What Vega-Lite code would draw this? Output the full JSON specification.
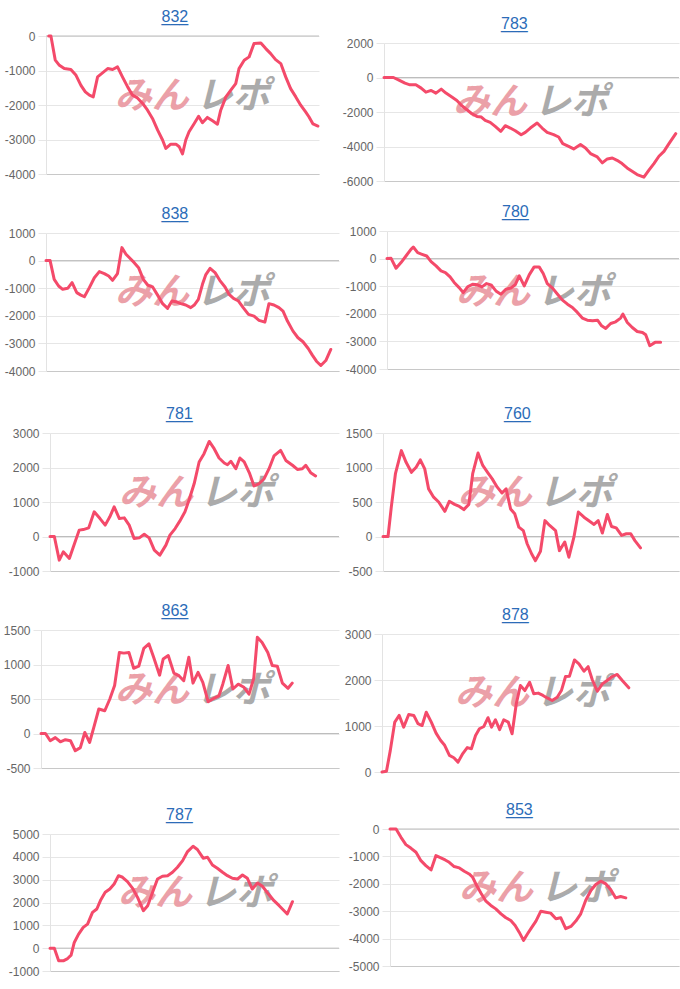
{
"$schema": "https://vega.github.io/schema/vega-lite/v6.json",
"padding": {"left": 0, "top": 0, "right": 0, "bottom": 0},
"background": "white",
"config": {
  "view": {"stroke": null},
  "title": {"font": "Liberation Sans", "fontSize": 16, "fontWeight": "normal", "color": "#2b6cb8", "offset": 5, "anchor": "start", "frame": "group", "subtitleFont": "Liberation Sans", "subtitleFontSize": 16, "subtitleColor": "#2b6cb8", "subtitlePadding": -16},
  "axisY": {"domainColor": "#e3e3e3", "gridColor": "#e6e6e6", "tickColor": "#e6e6e6", "tickSize": 8, "labelPadding": 3, "labelColor": "#666666", "labelFont": "Liberation Sans", "labelFontSize": 12, "labelExpr": "'' + datum.value", "labelOverlap": false, "labelFlush": false, "labelBound": false},
  "axisX": {"labels": false, "ticks": false, "grid": false, "domainColor": "#c8c8c8"},
  "line": {"color": "#f44a6a", "strokeWidth": 3, "strokeJoin": "round", "strokeCap": "round"},
  "rule": {"color": "#bdbdbd", "strokeWidth": 1},
  "text": {"font": "Noto Sans CJK JP", "fontSize": 37, "fontWeight": "bold", "fontStyle": "italic", "baseline": "middle"}
},
"datasets": {"d": [
{"p":832,"t":1.0,"v":0},{"p":832,"t":1.8,"v":0},{"p":832,"t":3.4,"v":-700},{"p":832,"t":4.9,"v":-850},{"p":832,"t":6.7,"v":-945},{"p":832,"t":9.1,"v":-970},{"p":832,"t":11.0,"v":-1140},{"p":832,"t":12.8,"v":-1430},{"p":832,"t":14.4,"v":-1620},{"p":832,"t":15.9,"v":-1715},{"p":832,"t":17.3,"v":-1765},{"p":832,"t":18.9,"v":-1185},{"p":832,"t":20.7,"v":-1070},{"p":832,"t":22.6,"v":-945},{"p":832,"t":24.4,"v":-970},{"p":832,"t":26.2,"v":-895},{"p":832,"t":28.0,"v":-1185},{"p":832,"t":29.9,"v":-1475},{"p":832,"t":31.7,"v":-1715},{"p":832,"t":33.5,"v":-1795},{"p":832,"t":35.4,"v":-1955},{"p":832,"t":37.2,"v":-2150},{"p":832,"t":39.0,"v":-2390},{"p":832,"t":40.9,"v":-2730},{"p":832,"t":42.7,"v":-3015},{"p":832,"t":43.9,"v":-3260},{"p":832,"t":45.7,"v":-3135},{"p":832,"t":47.6,"v":-3135},{"p":832,"t":48.8,"v":-3210},{"p":832,"t":50.0,"v":-3420},{"p":832,"t":51.2,"v":-3015},{"p":832,"t":52.4,"v":-2775},{"p":832,"t":54.3,"v":-2535},{"p":832,"t":55.9,"v":-2325},{"p":832,"t":57.3,"v":-2515},{"p":832,"t":59.1,"v":-2360},{"p":832,"t":61.0,"v":-2460},{"p":832,"t":62.8,"v":-2555},{"p":832,"t":64.0,"v":-2150},{"p":832,"t":65.9,"v":-1765},{"p":832,"t":67.7,"v":-1570},{"p":832,"t":69.5,"v":-1380},{"p":832,"t":70.7,"v":-945},{"p":832,"t":72.6,"v":-705},{"p":832,"t":74.4,"v":-605},{"p":832,"t":76.2,"v":-220},{"p":832,"t":78.7,"v":-200},{"p":832,"t":80.5,"v":-365},{"p":832,"t":82.3,"v":-510},{"p":832,"t":84.1,"v":-685},{"p":832,"t":86.0,"v":-800},{"p":832,"t":87.8,"v":-1185},{"p":832,"t":89.6,"v":-1525},{"p":832,"t":91.5,"v":-1765},{"p":832,"t":93.3,"v":-2005},{"p":832,"t":95.1,"v":-2200},{"p":832,"t":96.3,"v":-2340},{"p":832,"t":97.8,"v":-2550},{"p":832,"t":99.6,"v":-2610},
{"p":783,"t":0,"v":0},{"p":783,"t":3.2,"v":0},{"p":783,"t":4.9,"v":-135},{"p":783,"t":7.1,"v":-330},{"p":783,"t":8.8,"v":-425},{"p":783,"t":10.8,"v":-425},{"p":783,"t":12.6,"v":-615},{"p":783,"t":14.2,"v":-850},{"p":783,"t":16.0,"v":-750},{"p":783,"t":17.6,"v":-905},{"p":783,"t":19.4,"v":-675},{"p":783,"t":21.0,"v":-905},{"p":783,"t":23.0,"v":-1135},{"p":783,"t":24.7,"v":-1330},{"p":783,"t":26.4,"v":-1640},{"p":783,"t":28.1,"v":-1870},{"p":783,"t":29.8,"v":-2100},{"p":783,"t":31.5,"v":-2255},{"p":783,"t":33.0,"v":-2295},{"p":783,"t":34.3,"v":-2485},{"p":783,"t":36.0,"v":-2600},{"p":783,"t":37.7,"v":-2830},{"p":783,"t":39.6,"v":-3120},{"p":783,"t":41.1,"v":-2795},{"p":783,"t":42.8,"v":-2930},{"p":783,"t":44.5,"v":-3085},{"p":783,"t":46.5,"v":-3315},{"p":783,"t":47.9,"v":-3180},{"p":783,"t":49.6,"v":-2930},{"p":783,"t":51.9,"v":-2640},{"p":783,"t":53.6,"v":-2930},{"p":783,"t":55.3,"v":-3180},{"p":783,"t":57.5,"v":-3315},{"p":783,"t":59.2,"v":-3450},{"p":783,"t":60.6,"v":-3835},{"p":783,"t":62.6,"v":-3990},{"p":783,"t":64.3,"v":-4140},{"p":783,"t":66.6,"v":-3890},{"p":783,"t":68.3,"v":-4085},{"p":783,"t":70.0,"v":-4410},{"p":783,"t":72.3,"v":-4605},{"p":783,"t":74.0,"v":-4950},{"p":783,"t":75.7,"v":-4720},{"p":783,"t":77.4,"v":-4665},{"p":783,"t":79.0,"v":-4800},{"p":783,"t":80.7,"v":-4990},{"p":783,"t":82.4,"v":-5240},{"p":783,"t":84.1,"v":-5435},{"p":783,"t":85.8,"v":-5625},{"p":783,"t":88.1,"v":-5780},{"p":783,"t":89.8,"v":-5375},{"p":783,"t":91.5,"v":-4990},{"p":783,"t":93.2,"v":-4565},{"p":783,"t":94.9,"v":-4280},{"p":783,"t":96.6,"v":-3835},{"p":783,"t":98.9,"v":-3255},
{"p":838,"t":0,"v":0},{"p":838,"t":1.4,"v":0},{"p":838,"t":2.8,"v":-680},{"p":838,"t":4.3,"v":-920},{"p":838,"t":5.7,"v":-1040},{"p":838,"t":7.4,"v":-1005},{"p":838,"t":8.9,"v":-800},{"p":838,"t":10.5,"v":-1160},{"p":838,"t":11.9,"v":-1250},{"p":838,"t":13.1,"v":-1310},{"p":838,"t":14.8,"v":-980},{"p":838,"t":16.5,"v":-620},{"p":838,"t":18.2,"v":-400},{"p":838,"t":19.9,"v":-470},{"p":838,"t":21.4,"v":-560},{"p":838,"t":22.7,"v":-715},{"p":838,"t":24.4,"v":-470},{"p":838,"t":25.9,"v":470},{"p":838,"t":27.3,"v":230},{"p":838,"t":28.4,"v":110},{"p":838,"t":30.1,"v":-75},{"p":838,"t":31.6,"v":-255},{"p":838,"t":33.2,"v":-680},{"p":838,"t":34.7,"v":-885},{"p":838,"t":36.4,"v":-955},{"p":838,"t":38.1,"v":-1250},{"p":838,"t":39.8,"v":-1560},{"p":838,"t":41.5,"v":-1730},{"p":838,"t":43.0,"v":-1465},{"p":838,"t":44.3,"v":-1490},{"p":838,"t":46.0,"v":-1560},{"p":838,"t":47.7,"v":-1610},{"p":838,"t":49.4,"v":-1705},{"p":838,"t":50.6,"v":-1610},{"p":838,"t":52.0,"v":-1405},{"p":838,"t":53.4,"v":-860},{"p":838,"t":54.5,"v":-520},{"p":838,"t":56.0,"v":-280},{"p":838,"t":57.7,"v":-435},{"p":838,"t":59.3,"v":-715},{"p":838,"t":61.1,"v":-955},{"p":838,"t":62.5,"v":-1225},{"p":838,"t":64.0,"v":-1370},{"p":838,"t":65.7,"v":-1465},{"p":838,"t":67.3,"v":-1705},{"p":838,"t":69.1,"v":-1950},{"p":838,"t":71.0,"v":-2010},{"p":838,"t":72.7,"v":-2165},{"p":838,"t":74.7,"v":-2230},{"p":838,"t":76.1,"v":-1560},{"p":838,"t":77.8,"v":-1610},{"p":838,"t":79.5,"v":-1705},{"p":838,"t":80.9,"v":-1830},{"p":838,"t":82.4,"v":-2190},{"p":838,"t":84.3,"v":-2555},{"p":838,"t":86.0,"v":-2795},{"p":838,"t":87.7,"v":-2940},{"p":838,"t":89.5,"v":-3185},{"p":838,"t":90.9,"v":-3425},{"p":838,"t":92.3,"v":-3645},{"p":838,"t":93.8,"v":-3800},{"p":838,"t":95.5,"v":-3620},{"p":838,"t":97.2,"v":-3220},
{"p":780,"t":0,"v":0},{"p":780,"t":1.4,"v":10},{"p":780,"t":3.1,"v":-350},{"p":780,"t":4.8,"v":-145},{"p":780,"t":6.5,"v":95},{"p":780,"t":8.2,"v":335},{"p":780,"t":9.0,"v":420},{"p":780,"t":10.5,"v":215},{"p":780,"t":12.0,"v":155},{"p":780,"t":13.6,"v":95},{"p":780,"t":15.1,"v":-110},{"p":780,"t":16.8,"v":-265},{"p":780,"t":18.5,"v":-445},{"p":780,"t":20.0,"v":-505},{"p":780,"t":21.6,"v":-665},{"p":780,"t":23.0,"v":-865},{"p":780,"t":24.7,"v":-1050},{"p":780,"t":26.1,"v":-1230},{"p":780,"t":27.6,"v":-1025},{"p":780,"t":29.3,"v":-930},{"p":780,"t":31.0,"v":-950},{"p":780,"t":32.5,"v":-1025},{"p":780,"t":34.1,"v":-905},{"p":780,"t":35.6,"v":-950},{"p":780,"t":37.3,"v":-1170},{"p":780,"t":39.0,"v":-1290},{"p":780,"t":40.7,"v":-1110},{"p":780,"t":42.4,"v":-1070},{"p":780,"t":43.9,"v":-950},{"p":780,"t":45.3,"v":-625},{"p":780,"t":47.0,"v":-990},{"p":780,"t":48.7,"v":-590},{"p":780,"t":50.4,"v":-300},{"p":780,"t":52.1,"v":-300},{"p":780,"t":53.5,"v":-540},{"p":780,"t":54.9,"v":-905},{"p":780,"t":56.7,"v":-1070},{"p":780,"t":58.4,"v":-1290},{"p":780,"t":60.1,"v":-1505},{"p":780,"t":61.8,"v":-1650},{"p":780,"t":63.5,"v":-1770},{"p":780,"t":65.2,"v":-1950},{"p":780,"t":66.9,"v":-2155},{"p":780,"t":68.6,"v":-2230},{"p":780,"t":70.4,"v":-2255},{"p":780,"t":72.1,"v":-2230},{"p":780,"t":73.5,"v":-2435},{"p":780,"t":74.9,"v":-2530},{"p":780,"t":76.6,"v":-2350},{"p":780,"t":78.3,"v":-2290},{"p":780,"t":80.0,"v":-2155},{"p":780,"t":80.8,"v":-2010},{"p":780,"t":82.3,"v":-2315},{"p":780,"t":84.0,"v":-2495},{"p":780,"t":85.7,"v":-2640},{"p":780,"t":87.5,"v":-2675},{"p":780,"t":88.6,"v":-2760},{"p":780,"t":90.0,"v":-3155},{"p":780,"t":91.8,"v":-3035},{"p":780,"t":93.7,"v":-3035},
{"p":781,"t":0,"v":0},{"p":781,"t":1.5,"v":0},{"p":781,"t":3.2,"v":-685},{"p":781,"t":4.6,"v":-445},{"p":781,"t":6.7,"v":-635},{"p":781,"t":8.1,"v":-300},{"p":781,"t":10.1,"v":185},{"p":781,"t":11.5,"v":200},{"p":781,"t":13.4,"v":250},{"p":781,"t":15.3,"v":715},{"p":781,"t":17.3,"v":520},{"p":781,"t":19.1,"v":330},{"p":781,"t":20.7,"v":570},{"p":781,"t":22.2,"v":860},{"p":781,"t":24.0,"v":520},{"p":781,"t":25.7,"v":540},{"p":781,"t":27.4,"v":330},{"p":781,"t":29.1,"v":-60},{"p":781,"t":30.9,"v":-40},{"p":781,"t":32.6,"v":65},{"p":781,"t":34.3,"v":-40},{"p":781,"t":36.1,"v":-395},{"p":781,"t":38.0,"v":-540},{"p":781,"t":40.1,"v":-250},{"p":781,"t":41.5,"v":40},{"p":781,"t":43.3,"v":230},{"p":781,"t":44.9,"v":445},{"p":781,"t":46.7,"v":715},{"p":781,"t":48.2,"v":1080},{"p":781,"t":49.9,"v":1535},{"p":781,"t":51.6,"v":2160},{"p":781,"t":53.3,"v":2400},{"p":781,"t":55.1,"v":2755},{"p":781,"t":56.8,"v":2545},{"p":781,"t":58.5,"v":2275},{"p":781,"t":60.3,"v":2130},{"p":781,"t":61.4,"v":2080},{"p":781,"t":62.6,"v":2180},{"p":781,"t":64.3,"v":1965},{"p":781,"t":65.7,"v":2275},{"p":781,"t":67.2,"v":2160},{"p":781,"t":69.1,"v":1820},{"p":781,"t":70.6,"v":1465},{"p":781,"t":72.4,"v":1535},{"p":781,"t":74.1,"v":1675},{"p":781,"t":75.8,"v":1965},{"p":781,"t":77.5,"v":2335},{"p":781,"t":79.8,"v":2495},{"p":781,"t":81.6,"v":2205},{"p":781,"t":83.9,"v":2065},{"p":781,"t":85.6,"v":1945},{"p":781,"t":87.3,"v":1965},{"p":781,"t":88.5,"v":2065},{"p":781,"t":90.2,"v":1850},{"p":781,"t":91.9,"v":1755},
{"p":760,"t":0,"v":0},{"p":760,"t":1.7,"v":0},{"p":760,"t":2.8,"v":425},{"p":760,"t":4.2,"v":910},{"p":760,"t":6.2,"v":1245},{"p":760,"t":7.8,"v":1075},{"p":760,"t":9.6,"v":930},{"p":760,"t":11.2,"v":1005},{"p":760,"t":12.6,"v":1110},{"p":760,"t":14.1,"v":980},{"p":760,"t":15.4,"v":690},{"p":760,"t":17.1,"v":570},{"p":760,"t":18.8,"v":500},{"p":760,"t":20.9,"v":365},{"p":760,"t":22.4,"v":510},{"p":760,"t":24.2,"v":465},{"p":760,"t":25.8,"v":435},{"p":760,"t":27.3,"v":390},{"p":760,"t":29.0,"v":465},{"p":760,"t":30.3,"v":910},{"p":760,"t":32.1,"v":1210},{"p":760,"t":33.7,"v":1030},{"p":760,"t":35.5,"v":920},{"p":760,"t":36.9,"v":835},{"p":760,"t":38.6,"v":715},{"p":760,"t":40.2,"v":630},{"p":760,"t":41.6,"v":690},{"p":760,"t":43.1,"v":400},{"p":760,"t":44.5,"v":330},{"p":760,"t":45.9,"v":135},{"p":760,"t":47.4,"v":85},{"p":760,"t":48.7,"v":-105},{"p":760,"t":50.2,"v":-250},{"p":760,"t":51.5,"v":-350},{"p":760,"t":53.2,"v":-215},{"p":760,"t":54.7,"v":230},{"p":760,"t":56.3,"v":160},{"p":760,"t":58.3,"v":85},{"p":760,"t":59.6,"v":-205},{"p":760,"t":61.4,"v":-80},{"p":760,"t":62.8,"v":-300},{"p":760,"t":64.5,"v":-10},{"p":760,"t":66.0,"v":355},{"p":760,"t":67.9,"v":280},{"p":760,"t":69.8,"v":220},{"p":760,"t":71.3,"v":175},{"p":760,"t":72.7,"v":230},{"p":760,"t":74.1,"v":50},{"p":760,"t":75.8,"v":320},{"p":760,"t":77.2,"v":145},{"p":760,"t":78.8,"v":125},{"p":760,"t":80.6,"v":15},{"p":760,"t":82.2,"v":40},{"p":760,"t":83.7,"v":40},{"p":760,"t":85.1,"v":-60},{"p":760,"t":87.0,"v":-165},
{"p":863,"t":0,"v":0},{"p":863,"t":1.5,"v":0},{"p":863,"t":3.1,"v":-105},{"p":863,"t":4.8,"v":-60},{"p":863,"t":6.5,"v":-120},{"p":863,"t":8.2,"v":-90},{"p":863,"t":9.9,"v":-105},{"p":863,"t":11.5,"v":-250},{"p":863,"t":13.2,"v":-205},{"p":863,"t":14.7,"v":15},{"p":863,"t":16.3,"v":-130},{"p":863,"t":17.7,"v":85},{"p":863,"t":19.4,"v":355},{"p":863,"t":21.4,"v":330},{"p":863,"t":23.1,"v":500},{"p":863,"t":24.7,"v":695},{"p":863,"t":26.3,"v":1175},{"p":863,"t":27.8,"v":1165},{"p":863,"t":29.5,"v":1175},{"p":863,"t":31.1,"v":945},{"p":863,"t":32.8,"v":975},{"p":863,"t":34.5,"v":1235},{"p":863,"t":36.2,"v":1300},{"p":863,"t":37.8,"v":1105},{"p":863,"t":39.8,"v":845},{"p":863,"t":41.0,"v":1080},{"p":863,"t":42.7,"v":1130},{"p":863,"t":44.6,"v":875},{"p":863,"t":46.2,"v":840},{"p":863,"t":47.9,"v":765},{"p":863,"t":49.6,"v":1105},{"p":863,"t":51.0,"v":730},{"p":863,"t":52.7,"v":885},{"p":863,"t":54.3,"v":740},{"p":863,"t":56.1,"v":460},{"p":863,"t":58.0,"v":510},{"p":863,"t":59.7,"v":545},{"p":863,"t":61.0,"v":715},{"p":863,"t":62.8,"v":985},{"p":863,"t":64.4,"v":645},{"p":863,"t":66.2,"v":715},{"p":863,"t":68.1,"v":670},{"p":863,"t":69.8,"v":570},{"p":863,"t":71.4,"v":800},{"p":863,"t":72.6,"v":1395},{"p":863,"t":74.2,"v":1320},{"p":863,"t":76.1,"v":1175},{"p":863,"t":77.6,"v":985},{"p":863,"t":79.3,"v":975},{"p":863,"t":81.0,"v":730},{"p":863,"t":82.9,"v":655},{"p":863,"t":84.3,"v":730},
{"p":878,"t":0,"v":0},{"p":878,"t":1.5,"v":15},{"p":878,"t":2.8,"v":470},{"p":878,"t":4.3,"v":1085},{"p":878,"t":5.8,"v":1230},{"p":878,"t":7.3,"v":975},{"p":878,"t":9.0,"v":1250},{"p":878,"t":10.7,"v":1230},{"p":878,"t":12.1,"v":1050},{"p":878,"t":13.5,"v":1010},{"p":878,"t":14.9,"v":1300},{"p":878,"t":16.6,"v":1085},{"p":878,"t":18.2,"v":845},{"p":878,"t":19.7,"v":690},{"p":878,"t":21.1,"v":580},{"p":878,"t":22.7,"v":360},{"p":878,"t":24.2,"v":310},{"p":878,"t":25.6,"v":215},{"p":878,"t":27.2,"v":400},{"p":878,"t":28.7,"v":530},{"p":878,"t":30.1,"v":505},{"p":878,"t":31.5,"v":795},{"p":878,"t":32.8,"v":940},{"p":878,"t":34.3,"v":990},{"p":878,"t":35.7,"v":1180},{"p":878,"t":36.9,"v":975},{"p":878,"t":38.2,"v":1135},{"p":878,"t":39.6,"v":920},{"p":878,"t":41.0,"v":1135},{"p":878,"t":42.5,"v":1085},{"p":878,"t":43.8,"v":830},{"p":878,"t":45.2,"v":1480},{"p":878,"t":46.6,"v":1880},{"p":878,"t":48.1,"v":1770},{"p":878,"t":49.7,"v":1950},{"p":878,"t":51.1,"v":1700},{"p":878,"t":52.6,"v":1715},{"p":878,"t":54.2,"v":1665},{"p":878,"t":55.6,"v":1610},{"p":878,"t":57.3,"v":1555},{"p":878,"t":59.0,"v":1625},{"p":878,"t":60.4,"v":1770},{"p":878,"t":61.8,"v":2075},{"p":878,"t":63.1,"v":2080},{"p":878,"t":64.8,"v":2435},{"p":878,"t":66.3,"v":2350},{"p":878,"t":68.0,"v":2190},{"p":878,"t":69.4,"v":2290},{"p":878,"t":70.8,"v":2005},{"p":878,"t":72.5,"v":1755},{"p":878,"t":74.2,"v":1915},{"p":878,"t":75.8,"v":1990},{"p":878,"t":77.5,"v":2075},{"p":878,"t":79.2,"v":2120},{"p":878,"t":80.9,"v":1990},{"p":878,"t":83.1,"v":1830},
{"p":787,"t":0,"v":0},{"p":787,"t":1.5,"v":0},{"p":787,"t":3.0,"v":-555},{"p":787,"t":4.6,"v":-555},{"p":787,"t":6.1,"v":-455},{"p":787,"t":7.3,"v":-305},{"p":787,"t":8.4,"v":250},{"p":787,"t":9.9,"v":615},{"p":787,"t":11.5,"v":910},{"p":787,"t":13.0,"v":1055},{"p":787,"t":14.7,"v":1565},{"p":787,"t":16.2,"v":1715},{"p":787,"t":17.6,"v":2125},{"p":787,"t":19.1,"v":2445},{"p":787,"t":20.7,"v":2590},{"p":787,"t":22.2,"v":2810},{"p":787,"t":23.7,"v":3175},{"p":787,"t":25.1,"v":3105},{"p":787,"t":26.8,"v":2915},{"p":787,"t":28.6,"v":2620},{"p":787,"t":30.3,"v":2225},{"p":787,"t":32.3,"v":1640},{"p":787,"t":33.8,"v":1860},{"p":787,"t":35.5,"v":2445},{"p":787,"t":37.2,"v":3030},{"p":787,"t":38.9,"v":3150},{"p":787,"t":40.7,"v":3175},{"p":787,"t":42.4,"v":3325},{"p":787,"t":44.1,"v":3545},{"p":787,"t":45.9,"v":3835},{"p":787,"t":47.6,"v":4230},{"p":787,"t":49.5,"v":4465},{"p":787,"t":51.0,"v":4320},{"p":787,"t":53.0,"v":3940},{"p":787,"t":54.5,"v":3980},{"p":787,"t":56.2,"v":3645},{"p":787,"t":57.9,"v":3500},{"p":787,"t":59.7,"v":3325},{"p":787,"t":61.4,"v":3175},{"p":787,"t":63.1,"v":3060},{"p":787,"t":64.9,"v":3030},{"p":787,"t":66.6,"v":3205},{"p":787,"t":68.3,"v":3060},{"p":787,"t":70.0,"v":2590},{"p":787,"t":71.8,"v":2855},{"p":787,"t":73.5,"v":2710},{"p":787,"t":75.6,"v":2370},{"p":787,"t":77.5,"v":2080},{"p":787,"t":79.3,"v":1860},{"p":787,"t":81.0,"v":1640},{"p":787,"t":82.1,"v":1495},{"p":787,"t":83.9,"v":2035},
{"p":853,"t":0,"v":0},{"p":853,"t":2.1,"v":0},{"p":853,"t":3.8,"v":-305},{"p":853,"t":5.5,"v":-570},{"p":853,"t":7.3,"v":-705},{"p":853,"t":9.0,"v":-850},{"p":853,"t":10.7,"v":-1155},{"p":853,"t":12.4,"v":-1335},{"p":853,"t":14.2,"v":-1495},{"p":853,"t":15.9,"v":-970},{"p":853,"t":17.6,"v":-1055},{"p":853,"t":19.1,"v":-1130},{"p":853,"t":20.5,"v":-1215},{"p":853,"t":22.2,"v":-1370},{"p":853,"t":24.0,"v":-1420},{"p":853,"t":25.7,"v":-1540},{"p":853,"t":27.4,"v":-1640},{"p":853,"t":28.6,"v":-1760},{"p":853,"t":30.0,"v":-2065},{"p":853,"t":31.5,"v":-2345},{"p":853,"t":33.2,"v":-2635},{"p":853,"t":34.9,"v":-2790},{"p":853,"t":36.6,"v":-2915},{"p":853,"t":38.4,"v":-3095},{"p":853,"t":40.1,"v":-3240},{"p":853,"t":41.8,"v":-3340},{"p":853,"t":43.3,"v":-3520},{"p":853,"t":44.7,"v":-3765},{"p":853,"t":46.2,"v":-4065},{"p":853,"t":47.6,"v":-3825},{"p":853,"t":49.1,"v":-3580},{"p":853,"t":50.5,"v":-3360},{"p":853,"t":52.2,"v":-3000},{"p":853,"t":53.9,"v":-3035},{"p":853,"t":55.6,"v":-3070},{"p":853,"t":57.4,"v":-3275},{"p":853,"t":59.1,"v":-3240},{"p":853,"t":60.8,"v":-3640},{"p":853,"t":62.6,"v":-3555},{"p":853,"t":64.3,"v":-3360},{"p":853,"t":66.0,"v":-3095},{"p":853,"t":67.7,"v":-2610},{"p":853,"t":69.5,"v":-2245},{"p":853,"t":71.2,"v":-2025},{"p":853,"t":72.9,"v":-1905},{"p":853,"t":74.7,"v":-2005},{"p":853,"t":76.4,"v":-2220},{"p":853,"t":78.1,"v":-2515},{"p":853,"t":79.8,"v":-2465},{"p":853,"t":81.6,"v":-2515}
]},
"spacing": 0,
"hconcat": [
{"spacing": 2, "vconcat": [
 {"width": 10, "height": 7, "data": {"values": [{}]}, "mark": {"type": "point", "size": 0, "opacity": 0}},
 {"spacing": 0, "hconcat": [{"width": 1, "height": 1, "data": {"values": [{}]}, "mark": {"type": "point", "size": 0, "opacity": 0}}, {"title": {"text": "832", "subtitle": "___", "dx": 115.5}, "width": 273, "height": 138, "resolve": {"axis": {"x": "independent", "y": "independent"}}, "layer": [
  {"data": {"values": [{}]}, "mark": "rule", "encoding": {"y": {"datum": 0, "axis": null}}},
  {"data": {"values": [{}]}, "mark": {"type": "text", "text": "みん", "align": "right", "dx": -4, "color": "#eba0a8"}, "encoding": {"x": {"datum": 53.8, "axis": null}, "y": {"datum": -1760, "axis": null}}},
  {"data": {"values": [{}]}, "mark": {"type": "text", "text": "レポ", "align": "left", "dx": 3, "color": "#ababab"}, "encoding": {"x": {"datum": 53.8, "axis": null}, "y": {"datum": -1760, "axis": null}}},
  {"data": {"name": "d"}, "transform": [{"filter": "datum.p == 832"}], "mark": "line", "encoding": {
   "x": {"field": "t", "type": "quantitative", "title": null, "scale": {"domain": [0, 100], "nice": false, "zero": false}, "axis": {"minExtent": 30, "maxExtent": 30}},
   "y": {"field": "v", "type": "quantitative", "title": null, "scale": {"domain": [-4000, 0], "nice": false, "zero": false}, "axis": {"values": [-4000, -3000, -2000, -1000, 0], "grid": true, "ticks": true, "domain": true, "labelOverlap": false, "minExtent": 45, "maxExtent": 45}}}}
 ]}]},
 {"spacing": 0, "hconcat": [{"width": 1, "height": 1, "data": {"values": [{}]}, "mark": {"type": "point", "size": 0, "opacity": 0}}, {"title": {"text": "838", "subtitle": "___", "dx": 115.5}, "width": 293, "height": 138, "resolve": {"axis": {"x": "independent", "y": "independent"}}, "layer": [
  {"data": {"values": [{}]}, "mark": "rule", "encoding": {"y": {"datum": 0, "axis": null}}},
  {"data": {"values": [{}]}, "mark": {"type": "text", "text": "みん", "align": "right", "dx": -4, "color": "#eba0a8"}, "encoding": {"x": {"datum": 50.2, "axis": null}, "y": {"datum": -1170, "axis": null}}},
  {"data": {"values": [{}]}, "mark": {"type": "text", "text": "レポ", "align": "left", "dx": 3, "color": "#ababab"}, "encoding": {"x": {"datum": 50.2, "axis": null}, "y": {"datum": -1170, "axis": null}}},
  {"data": {"name": "d"}, "transform": [{"filter": "datum.p == 838"}], "mark": "line", "encoding": {
   "x": {"field": "t", "type": "quantitative", "title": null, "scale": {"domain": [0, 100], "nice": false, "zero": false}, "axis": {"minExtent": 33, "maxExtent": 33}},
   "y": {"field": "v", "type": "quantitative", "title": null, "scale": {"domain": [-4000, 1000], "nice": false, "zero": false}, "axis": {"values": [-4000, -3000, -2000, -1000, 0, 1000], "grid": true, "ticks": true, "domain": true, "labelOverlap": false, "minExtent": 45, "maxExtent": 45}}}}
 ]}]},
 {"spacing": 0, "hconcat": [{"width": 1, "height": 1, "data": {"values": [{}]}, "mark": {"type": "point", "size": 0, "opacity": 0}}, {"title": {"text": "781", "subtitle": "___", "dx": 116}, "width": 289, "height": 138, "resolve": {"axis": {"x": "independent", "y": "independent"}}, "layer": [
  {"data": {"values": [{}]}, "mark": "rule", "encoding": {"y": {"datum": 0, "axis": null}}},
  {"data": {"values": [{}]}, "mark": {"type": "text", "text": "みん", "align": "right", "dx": -4, "color": "#eba0a8"}, "encoding": {"x": {"datum": 50.9, "axis": null}, "y": {"datum": 1240, "axis": null}}},
  {"data": {"values": [{}]}, "mark": {"type": "text", "text": "レポ", "align": "left", "dx": 3, "color": "#ababab"}, "encoding": {"x": {"datum": 50.9, "axis": null}, "y": {"datum": 1240, "axis": null}}},
  {"data": {"name": "d"}, "transform": [{"filter": "datum.p == 781"}], "mark": "line", "encoding": {
   "x": {"field": "t", "type": "quantitative", "title": null, "scale": {"domain": [0, 100], "nice": false, "zero": false}, "axis": {"minExtent": 30, "maxExtent": 30}},
   "y": {"field": "v", "type": "quantitative", "title": null, "scale": {"domain": [-1000, 3000], "nice": false, "zero": false}, "axis": {"values": [-1000, 0, 1000, 2000, 3000], "grid": true, "ticks": true, "domain": true, "labelOverlap": false, "minExtent": 49, "maxExtent": 49}}}}
 ]}]},
 {"spacing": 0, "hconcat": [{"width": 1, "height": 1, "data": {"values": [{}]}, "mark": {"type": "point", "size": 0, "opacity": 0}}, {"title": {"text": "863", "subtitle": "___", "dx": 120.5}, "width": 298, "height": 138, "resolve": {"axis": {"x": "independent", "y": "independent"}}, "layer": [
  {"data": {"values": [{}]}, "mark": "rule", "encoding": {"y": {"datum": 0, "axis": null}}},
  {"data": {"values": [{}]}, "mark": {"type": "text", "text": "みん", "align": "right", "dx": -4, "color": "#eba0a8"}, "encoding": {"x": {"datum": 51.0, "axis": null}, "y": {"datum": 620, "axis": null}}},
  {"data": {"values": [{}]}, "mark": {"type": "text", "text": "レポ", "align": "left", "dx": 3, "color": "#ababab"}, "encoding": {"x": {"datum": 51.0, "axis": null}, "y": {"datum": 620, "axis": null}}},
  {"data": {"name": "d"}, "transform": [{"filter": "datum.p == 863"}], "mark": "line", "encoding": {
   "x": {"field": "t", "type": "quantitative", "title": null, "scale": {"domain": [0, 100], "nice": false, "zero": false}, "axis": {"minExtent": 37, "maxExtent": 37}},
   "y": {"field": "v", "type": "quantitative", "title": null, "scale": {"domain": [-500, 1500], "nice": false, "zero": false}, "axis": {"values": [-500, 0, 500, 1000, 1500], "grid": true, "ticks": true, "domain": true, "labelOverlap": false, "minExtent": 40, "maxExtent": 40}}}}
 ]}]},
 {"spacing": 0, "hconcat": [{"width": 1, "height": 1, "data": {"values": [{}]}, "mark": {"type": "point", "size": 0, "opacity": 0}}, {"title": {"text": "787", "subtitle": "___", "dx": 116}, "width": 289, "height": 137, "resolve": {"axis": {"x": "independent", "y": "independent"}}, "layer": [
  {"data": {"values": [{}]}, "mark": "rule", "encoding": {"y": {"datum": 0, "axis": null}}},
  {"data": {"values": [{}]}, "mark": {"type": "text", "text": "みん", "align": "right", "dx": -4, "color": "#eba0a8"}, "encoding": {"x": {"datum": 50.5, "axis": null}, "y": {"datum": 2370, "axis": null}}},
  {"data": {"values": [{}]}, "mark": {"type": "text", "text": "レポ", "align": "left", "dx": 3, "color": "#ababab"}, "encoding": {"x": {"datum": 50.5, "axis": null}, "y": {"datum": 2370, "axis": null}}},
  {"data": {"name": "d"}, "transform": [{"filter": "datum.p == 787"}], "mark": "line", "encoding": {
   "x": {"field": "t", "type": "quantitative", "title": null, "scale": {"domain": [0, 100], "nice": false, "zero": false}, "axis": {"minExtent": 10, "maxExtent": 10}},
   "y": {"field": "v", "type": "quantitative", "title": null, "scale": {"domain": [-1000, 5000], "nice": false, "zero": false}, "axis": {"values": [-1000, 0, 1000, 2000, 3000, 4000, 5000], "grid": true, "ticks": true, "domain": true, "labelOverlap": false, "minExtent": 49, "maxExtent": 49}}}}
 ]}]}
]},
{"spacing": 2, "vconcat": [
 {"width": 10, "height": 14, "data": {"values": [{}]}, "mark": {"type": "point", "size": 0, "opacity": 0}},
 {"spacing": 0, "hconcat": [{"width": 1, "height": 1, "data": {"values": [{}]}, "mark": {"type": "point", "size": 0, "opacity": 0}}, {"title": {"text": "783", "subtitle": "___", "dx": 117}, "width": 295, "height": 138, "resolve": {"axis": {"x": "independent", "y": "independent"}}, "layer": [
  {"data": {"values": [{}]}, "mark": "rule", "encoding": {"y": {"datum": 0, "axis": null}}},
  {"data": {"values": [{}]}, "mark": {"type": "text", "text": "みん", "align": "right", "dx": -4, "color": "#eba0a8"}, "encoding": {"x": {"datum": 49.8, "axis": null}, "y": {"datum": -1500, "axis": null}}},
  {"data": {"values": [{}]}, "mark": {"type": "text", "text": "レポ", "align": "left", "dx": 3, "color": "#ababab"}, "encoding": {"x": {"datum": 49.8, "axis": null}, "y": {"datum": -1500, "axis": null}}},
  {"data": {"name": "d"}, "transform": [{"filter": "datum.p == 783"}], "mark": "line", "encoding": {
   "x": {"field": "t", "type": "quantitative", "title": null, "scale": {"domain": [0, 100], "nice": false, "zero": false}, "axis": {"minExtent": 21, "maxExtent": 21}},
   "y": {"field": "v", "type": "quantitative", "title": null, "scale": {"domain": [-6000, 2000], "nice": false, "zero": false}, "axis": {"values": [-6000, -4000, -2000, 0, 2000], "grid": true, "ticks": true, "domain": true, "labelOverlap": false, "minExtent": 43, "maxExtent": 43}}}}
 ]}]},
 {"spacing": 0, "hconcat": [{"width": 1, "height": 1, "data": {"values": [{}]}, "mark": {"type": "point", "size": 0, "opacity": 0}}, {"title": {"text": "780", "subtitle": "___", "dx": 115}, "width": 292, "height": 138, "resolve": {"axis": {"x": "independent", "y": "independent"}}, "layer": [
  {"data": {"values": [{}]}, "mark": "rule", "encoding": {"y": {"datum": 0, "axis": null}}},
  {"data": {"values": [{}]}, "mark": {"type": "text", "text": "みん", "align": "right", "dx": -4, "color": "#eba0a8"}, "encoding": {"x": {"datum": 50.3, "axis": null}, "y": {"datum": -1230, "axis": null}}},
  {"data": {"values": [{}]}, "mark": {"type": "text", "text": "レポ", "align": "left", "dx": 3, "color": "#ababab"}, "encoding": {"x": {"datum": 50.3, "axis": null}, "y": {"datum": -1230, "axis": null}}},
  {"data": {"name": "d"}, "transform": [{"filter": "datum.p == 780"}], "mark": "line", "encoding": {
   "x": {"field": "t", "type": "quantitative", "title": null, "scale": {"domain": [0, 100], "nice": false, "zero": false}, "axis": {"minExtent": 35, "maxExtent": 35}},
   "y": {"field": "v", "type": "quantitative", "title": null, "scale": {"domain": [-4000, 1000], "nice": false, "zero": false}, "axis": {"values": [-4000, -3000, -2000, -1000, 0, 1000], "grid": true, "ticks": true, "domain": true, "labelOverlap": false, "minExtent": 46, "maxExtent": 46}}}}
 ]}]},
 {"spacing": 0, "hconcat": [{"width": 1, "height": 1, "data": {"values": [{}]}, "mark": {"type": "point", "size": 0, "opacity": 0}}, {"title": {"text": "760", "subtitle": "___", "dx": 121}, "width": 296, "height": 138, "resolve": {"axis": {"x": "independent", "y": "independent"}}, "layer": [
  {"data": {"values": [{}]}, "mark": "rule", "encoding": {"y": {"datum": 0, "axis": null}}},
  {"data": {"values": [{}]}, "mark": {"type": "text", "text": "みん", "align": "right", "dx": -4, "color": "#eba0a8"}, "encoding": {"x": {"datum": 51.6, "axis": null}, "y": {"datum": 620, "axis": null}}},
  {"data": {"values": [{}]}, "mark": {"type": "text", "text": "レポ", "align": "left", "dx": 3, "color": "#ababab"}, "encoding": {"x": {"datum": 51.6, "axis": null}, "y": {"datum": 620, "axis": null}}},
  {"data": {"name": "d"}, "transform": [{"filter": "datum.p == 760"}], "mark": "line", "encoding": {
   "x": {"field": "t", "type": "quantitative", "title": null, "scale": {"domain": [0, 100], "nice": false, "zero": false}, "axis": {"minExtent": 34, "maxExtent": 34}},
   "y": {"field": "v", "type": "quantitative", "title": null, "scale": {"domain": [-500, 1500], "nice": false, "zero": false}, "axis": {"values": [-500, 0, 500, 1000, 1500], "grid": true, "ticks": true, "domain": true, "labelOverlap": false, "minExtent": 42, "maxExtent": 42}}}}
 ]}]},
 {"spacing": 0, "hconcat": [{"width": 1, "height": 1, "data": {"values": [{}]}, "mark": {"type": "point", "size": 0, "opacity": 0}}, {"title": {"text": "878", "subtitle": "___", "dx": 120}, "width": 297, "height": 138, "resolve": {"axis": {"x": "independent", "y": "independent"}}, "layer": [
  {"data": {"values": [{}]}, "mark": {"type": "text", "text": "みん", "align": "right", "dx": -4, "color": "#eba0a8"}, "encoding": {"x": {"datum": 50.8, "axis": null}, "y": {"datum": 1700, "axis": null}}},
  {"data": {"values": [{}]}, "mark": {"type": "text", "text": "レポ", "align": "left", "dx": 3, "color": "#ababab"}, "encoding": {"x": {"datum": 50.8, "axis": null}, "y": {"datum": 1700, "axis": null}}},
  {"data": {"name": "d"}, "transform": [{"filter": "datum.p == 878"}], "mark": "line", "encoding": {
   "x": {"field": "t", "type": "quantitative", "title": null, "scale": {"domain": [0, 100], "nice": false, "zero": false}, "axis": {"minExtent": 28, "maxExtent": 28}},
   "y": {"field": "v", "type": "quantitative", "title": null, "scale": {"domain": [0, 3000], "nice": false, "zero": false}, "axis": {"values": [0, 1000, 2000, 3000], "grid": true, "ticks": true, "domain": true, "labelOverlap": false, "minExtent": 41, "maxExtent": 41}}}}
 ]}]},
 {"spacing": 0, "hconcat": [{"width": 1, "height": 1, "data": {"values": [{}]}, "mark": {"type": "point", "size": 0, "opacity": 0}}, {"title": {"text": "853", "subtitle": "___", "dx": 116}, "width": 289, "height": 137, "resolve": {"axis": {"x": "independent", "y": "independent"}}, "layer": [
  {"data": {"values": [{}]}, "mark": "rule", "encoding": {"y": {"datum": 0, "axis": null}}},
  {"data": {"values": [{}]}, "mark": {"type": "text", "text": "みん", "align": "right", "dx": -4, "color": "#eba0a8"}, "encoding": {"x": {"datum": 50.9, "axis": null}, "y": {"datum": -2185, "axis": null}}},
  {"data": {"values": [{}]}, "mark": {"type": "text", "text": "レポ", "align": "left", "dx": 3, "color": "#ababab"}, "encoding": {"x": {"datum": 50.9, "axis": null}, "y": {"datum": -2185, "axis": null}}},
  {"data": {"name": "d"}, "transform": [{"filter": "datum.p == 853"}], "mark": "line", "encoding": {
   "x": {"field": "t", "type": "quantitative", "title": null, "scale": {"domain": [0, 100], "nice": false, "zero": false}, "axis": {"minExtent": 10, "maxExtent": 10}},
   "y": {"field": "v", "type": "quantitative", "title": null, "scale": {"domain": [-5000, 0], "nice": false, "zero": false}, "axis": {"values": [-5000, -4000, -3000, -2000, -1000, 0], "grid": true, "ticks": true, "domain": true, "labelOverlap": false, "minExtent": 49, "maxExtent": 49}}}}
 ]}]}
]}
]
}
